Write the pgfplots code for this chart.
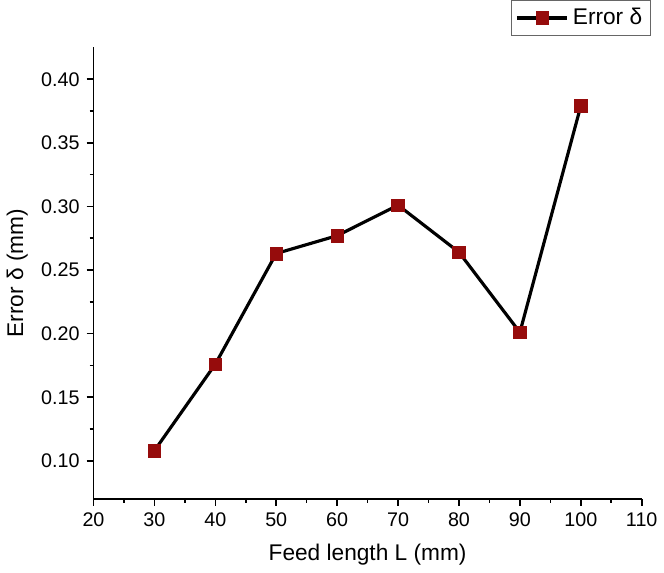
\documentclass[border=0pt]{standalone}
\usepackage{fontspec}
\setmainfont{Liberation Sans}
\usepackage{pgfplots}
\pgfplotsset{compat=1.18}
\definecolor{MarkRed}{RGB}{150,12,12}
\begin{document}
\begin{tikzpicture}
\begin{axis}[
    scale only axis,
    width=278pt, height=229pt,
    xmin=20, xmax=110, ymin=0.07, ymax=0.425,
    xtick={20,30,...,110},
    ytick={0.10,0.15,...,0.40},
    minor x tick num=1, minor y tick num=1,
    axis x line*=bottom, axis y line*=left,
    axis line style={-, line width=0.8pt},
    tick align=outside,
    major tick length=3.5pt, minor tick length=2pt,
    tick style={line width=0.8pt, black},
    /pgf/number format/assume math mode=true,
    yticklabel style={/pgf/number format/.cd, fixed, fixed zerofill, precision=2},
    tick label style={font=\fontsize{10}{11}\selectfont},
    label style={font=\fontsize{11.5}{13}\selectfont},
    xlabel style={yshift=-2pt},
    xlabel={Feed length L (mm)},
    ylabel={Error δ (mm)},
    legend style={at={(1.016,1.105)}, anchor=north east, draw=black!60,
        font=\fontsize{11.5}{13}\selectfont, inner sep=2pt},
    legend cell align=left,
    legend image code/.code={
        \draw[mark repeat=2, mark phase=2, #1, line width=1.6pt]
            plot coordinates {(0cm,0cm) (0.45cm,0cm) (0.9cm,0cm)};},
    clip=false,
]
\addplot[black, line width=1.6pt, mark=square*, mark size=3.2pt,
    mark options={fill=MarkRed, draw=MarkRed, line width=0.3pt}]
    coordinates {(30,0.108) (40,0.176) (50,0.263) (60,0.277) (70,0.301) (80,0.264) (90,0.201) (100,0.379)};
\addlegendentry{Error δ}
\end{axis}
\end{tikzpicture}
\end{document}
